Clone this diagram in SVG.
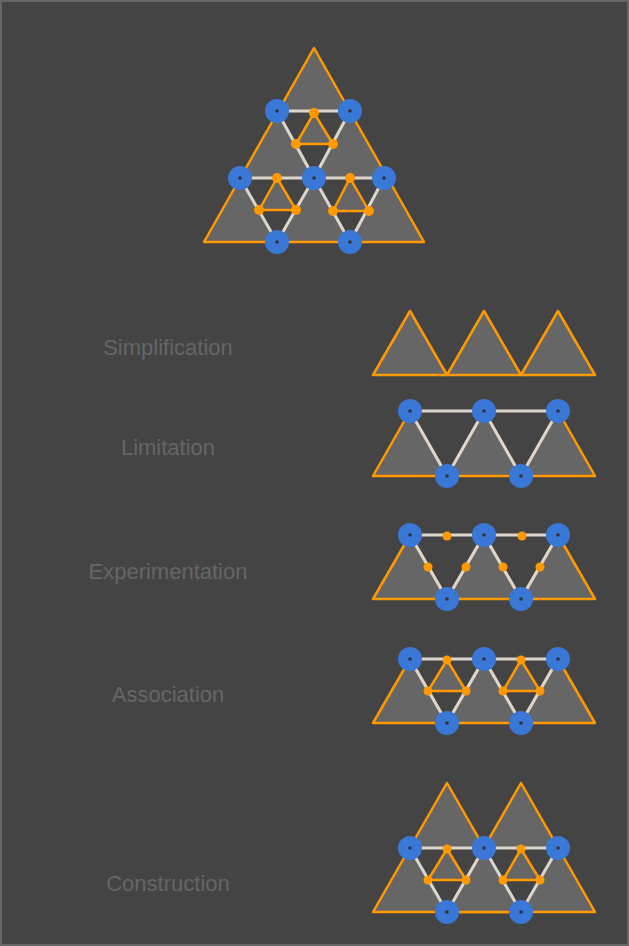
<svg xmlns="http://www.w3.org/2000/svg" width="629" height="946" viewBox="0 0 629 946">
<style>
.t{fill:#666;stroke:#f90;stroke-width:2.5;stroke-linejoin:round}
.d{fill:#444;stroke:none}
.w{stroke:#ddd6cc;stroke-width:3;fill:none}
.o{fill:#f90}
.lbl{font-family:"Liberation Sans",Arial,sans-serif;font-size:22px;fill:#666;text-anchor:middle}
</style>
<defs>
<g id="n"><circle r="12" fill="#3a78d8"/><circle r="1.8" fill="#333"/></g>
</defs>
<rect x="1" y="1" width="627" height="944" fill="#444" stroke="#666" stroke-width="2"/>
<g id="top">
<polygon class="t" points="314,48 204,242 424,242"/>
<polygon class="d" points="277,111 350,111 314,178"/>
<polygon class="d" points="240,178 314,178 277,242"/>
<polygon class="d" points="314,178 384,178 350,242"/>
<polygon class="t" points="314,113 296,144 333,144"/>
<polygon class="t" points="277,178 259,210 296,210"/>
<polygon class="t" points="350,178 333,211 369,211"/>
<polyline class="w" points="277,111 350,111 314,178 277,111"/>
<polyline class="w" points="240,178 384,178 350,242 314,178 277,242 240,178"/>
<g class="o"><circle cx="314" cy="113" r="5"/><circle cx="296" cy="144" r="5"/><circle cx="333" cy="144" r="5"/><circle cx="277" cy="178" r="5"/><circle cx="259" cy="210" r="5"/><circle cx="296" cy="210" r="5"/><circle cx="350" cy="178" r="5"/><circle cx="333" cy="211" r="5"/><circle cx="369" cy="211" r="5"/></g>
<use href="#n" x="277" y="111"/><use href="#n" x="350" y="111"/><use href="#n" x="240" y="178"/><use href="#n" x="314" y="178"/><use href="#n" x="384" y="178"/><use href="#n" x="277" y="242"/><use href="#n" x="350" y="242"/>
</g>
<g id="simplification">
<text class="lbl" x="168" y="355">Simplification</text>
<polygon class="t" points="373,375 410,311 447,375"/>
<polygon class="t" points="447,375 484,311 521,375"/>
<polygon class="t" points="521,375 558,311 595,375"/>
</g>
<g id="limitation">
<text class="lbl" x="168" y="455">Limitation</text>
<polygon class="t" points="373,476 410,411 447,476"/>
<polygon class="t" points="447,476 484,411 521,476"/>
<polygon class="t" points="521,476 558,411 595,476"/>
<polyline class="w" points="410,411 558,411 521,476 484,411 447,476 410,411"/>
<use href="#n" x="410" y="411"/><use href="#n" x="484" y="411"/><use href="#n" x="558" y="411"/><use href="#n" x="447" y="476"/><use href="#n" x="521" y="476"/>
</g>
<g id="experimentation">
<text class="lbl" x="168" y="579">Experimentation</text>
<polygon class="t" points="373,599 410,535 447,599"/>
<polygon class="t" points="447,599 484,535 521,599"/>
<polygon class="t" points="521,599 558,535 595,599"/>
<polyline class="w" points="410,535 558,535 521,599 484,535 447,599 410,535"/>
<g class="o"><circle cx="447" cy="536" r="4.5"/><circle cx="522" cy="536" r="4.5"/><circle cx="428" cy="567" r="4.5"/><circle cx="466" cy="567" r="4.5"/><circle cx="503" cy="567" r="4.5"/><circle cx="540" cy="567" r="4.5"/></g>
<use href="#n" x="410" y="535"/><use href="#n" x="484" y="535"/><use href="#n" x="558" y="535"/><use href="#n" x="447" y="599"/><use href="#n" x="521" y="599"/>
</g>
<g id="association">
<text class="lbl" x="168" y="702">Association</text>
<polygon class="t" points="373,723 410,659 447,723"/>
<polygon class="t" points="447,723 484,659 521,723"/>
<polygon class="t" points="521,723 558,659 595,723"/>
<polygon class="t" points="447,660 428,691 466,691"/>
<polygon class="t" points="521,660 503,691 540,691"/>
<polyline class="w" points="410,659 558,659 521,723 484,659 447,723 410,659"/>
<g class="o"><circle cx="447" cy="660" r="4.5"/><circle cx="521" cy="660" r="4.5"/><circle cx="428" cy="691" r="4.5"/><circle cx="466" cy="691" r="4.5"/><circle cx="503" cy="691" r="4.5"/><circle cx="540" cy="691" r="4.5"/></g>
<use href="#n" x="410" y="659"/><use href="#n" x="484" y="659"/><use href="#n" x="558" y="659"/><use href="#n" x="447" y="723"/><use href="#n" x="521" y="723"/>
</g>
<g id="construction">
<text class="lbl" x="168" y="891">Construction</text>
<polygon class="t" points="373,912 447,783 521,912"/>
<polygon class="t" points="447,912 521,783 595,912"/>
<polygon class="d" points="410,848 484,848 447,912"/>
<polygon class="d" points="484,848 558,848 521,912"/>
<polygon class="t" points="447,849 428,880 466,880"/>
<polygon class="t" points="521,849 503,880 540,880"/>
<polyline class="w" points="410,848 558,848 521,912 484,848 447,912 410,848"/>
<g class="o"><circle cx="447" cy="849" r="4.5"/><circle cx="521" cy="849" r="4.5"/><circle cx="428" cy="880" r="4.5"/><circle cx="466" cy="880" r="4.5"/><circle cx="503" cy="880" r="4.5"/><circle cx="540" cy="880" r="4.5"/></g>
<use href="#n" x="410" y="848"/><use href="#n" x="484" y="848"/><use href="#n" x="558" y="848"/><use href="#n" x="447" y="912"/><use href="#n" x="521" y="912"/>
</g>
</svg>
